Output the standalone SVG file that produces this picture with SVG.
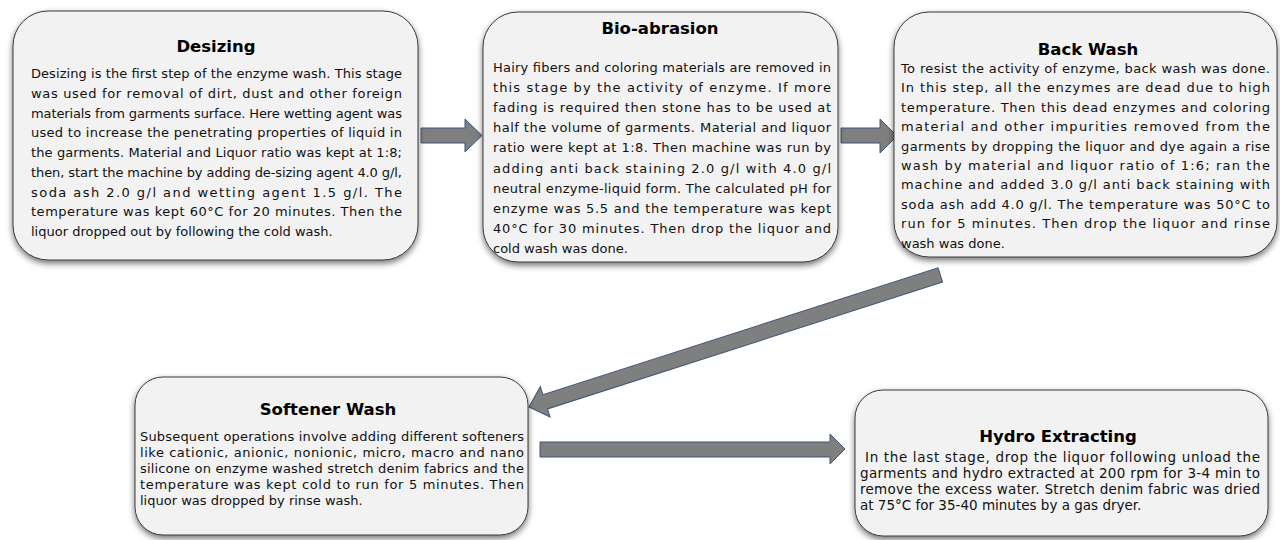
<svg xmlns="http://www.w3.org/2000/svg" width="1280" height="540" viewBox="0 0 1280 540">
<defs>
<filter id="sh" x="-10%" y="-10%" width="120%" height="130%">
<feDropShadow dx="0" dy="3" stdDeviation="3" flood-color="#000" flood-opacity="0.55"/>
</filter>
<style>
.box{fill:#f2f2f2;stroke:#3a3a3a;stroke-width:1;filter:url(#sh)}
.title{font-family:"DejaVu Sans",Verdana,sans-serif;font-weight:bold;font-size:16.5px;text-anchor:middle;fill:#000}
.body{font-family:"DejaVu Sans",Verdana,sans-serif;font-size:13px;fill:#111}
.low{font-size:13.5px}
.arrow{fill:#7f7f7f;stroke:#3e5678;stroke-width:1}
</style>
</defs>
<rect width="1280" height="540" fill="#fff"/>

<g id="connectors">
<polygon class="arrow" points="421,128 465,128 465,119 482,135.5 465,152 465,143 421,143"/>
<polygon class="arrow" points="841,128 880,128 880,119 897,136 880,153 880,143 841,143"/>
<polygon class="arrow" transform="translate(529,407) rotate(162.2)" points="-432,-7.5 -17,-7.5 -17,-16 0,0 -17,16 -17,7.5 -432,7.5"/>
<polygon class="arrow" points="540,442 830,442 830,434 845,449 830,464 830,457 540,457"/>
</g>

<g id="desizing">
<rect class="box" x="13" y="11" width="405" height="249" rx="35"/>
<text class="title" x="216" y="52">Desizing</text>
<text class="body" x="31" y="78" textLength="371" lengthAdjust="spacing">Desizing is the first step of the enzyme wash. This stage</text>
<text class="body" x="31" y="97.75" textLength="371" lengthAdjust="spacing">was used for removal of dirt, dust and other foreign</text>
<text class="body" x="31" y="117.5" textLength="371" lengthAdjust="spacing">materials from garments surface. Here wetting agent was</text>
<text class="body" x="31" y="137.25" textLength="371" lengthAdjust="spacing">used to increase the penetrating properties of liquid in</text>
<text class="body" x="31" y="157" textLength="371" lengthAdjust="spacing">the garments. Material and Liquor ratio was kept at 1:8;</text>
<text class="body" x="31" y="176.75" textLength="371" lengthAdjust="spacing">then, start the machine by adding de-sizing agent 4.0 g/l,</text>
<text class="body" x="31" y="196.5" textLength="371" lengthAdjust="spacing">soda ash 2.0 g/l and wetting agent 1.5 g/l. The</text>
<text class="body" x="31" y="216.25" textLength="371" lengthAdjust="spacing">temperature was kept 60°C for 20 minutes. Then the</text>
<text class="body" x="31" y="236">liquor dropped out by following the cold wash.</text>
</g>

<g id="bio-abrasion">
<rect class="box" x="483" y="12" width="355" height="250" rx="35"/>
<text class="title" x="660" y="34">Bio-abrasion</text>
<text class="body" x="493" y="72" textLength="338" lengthAdjust="spacing">Hairy fibers and coloring materials are removed in</text>
<text class="body" x="493" y="92.1" textLength="338" lengthAdjust="spacing">this stage by the activity of enzyme. If more</text>
<text class="body" x="493" y="112.2" textLength="338" lengthAdjust="spacing">fading is required then stone has to be used at</text>
<text class="body" x="493" y="132.3" textLength="338" lengthAdjust="spacing">half the volume of garments. Material and liquor</text>
<text class="body" x="493" y="152.4" textLength="338" lengthAdjust="spacing">ratio were kept at 1:8. Then machine was run by</text>
<text class="body" x="493" y="172.5" textLength="338" lengthAdjust="spacing">adding anti back staining 2.0 g/l with 4.0 g/l</text>
<text class="body" x="493" y="192.6" textLength="338" lengthAdjust="spacing">neutral enzyme-liquid form. The calculated pH for</text>
<text class="body" x="493" y="212.7" textLength="338" lengthAdjust="spacing">enzyme was 5.5 and the temperature was kept</text>
<text class="body" x="493" y="232.8" textLength="338" lengthAdjust="spacing">40°C for 30 minutes. Then drop the liquor and</text>
<text class="body" x="493" y="252.9">cold wash was done.</text>
</g>

<g id="back-wash">
<rect class="box" x="894" y="12" width="383" height="245" rx="35"/>
<text class="title" x="1088" y="55">Back Wash</text>
<text class="body" x="901" y="73" textLength="369" lengthAdjust="spacing">To resist the activity of enzyme, back wash was done.</text>
<text class="body" x="901" y="92.4" textLength="369" lengthAdjust="spacing">In this step, all the enzymes are dead due to high</text>
<text class="body" x="901" y="111.8" textLength="369" lengthAdjust="spacing">temperature. Then this dead enzymes and coloring</text>
<text class="body" x="901" y="131.2" textLength="369" lengthAdjust="spacing">material and other impurities removed from the</text>
<text class="body" x="901" y="150.6" textLength="369" lengthAdjust="spacing">garments by dropping the liquor and dye again a rise</text>
<text class="body" x="901" y="170" textLength="369" lengthAdjust="spacing">wash by material and liquor ratio of 1:6; ran the</text>
<text class="body" x="901" y="189.4" textLength="369" lengthAdjust="spacing">machine and added 3.0 g/l anti back staining with</text>
<text class="body" x="901" y="208.8" textLength="369" lengthAdjust="spacing">soda ash add 4.0 g/l. The temperature was 50°C to</text>
<text class="body" x="901" y="228.2" textLength="369" lengthAdjust="spacing">run for 5 minutes. Then drop the liquor and rinse</text>
<text class="body" x="901" y="247.6">wash was done.</text>
</g>

<g id="softener-wash">
<rect class="box" x="135" y="377" width="393" height="158" rx="28"/>
<text class="title" x="328" y="415">Softener Wash</text>
<text class="body" x="140" y="441" textLength="384" lengthAdjust="spacing">Subsequent operations involve adding different softeners</text>
<text class="body" x="140" y="457" textLength="384" lengthAdjust="spacing">like cationic, anionic, nonionic, micro, macro and nano</text>
<text class="body" x="140" y="473" textLength="384" lengthAdjust="spacing">silicone on enzyme washed stretch denim fabrics and the</text>
<text class="body" x="140" y="489" textLength="384" lengthAdjust="spacing">temperature was kept cold to run for 5 minutes. Then</text>
<text class="body" x="140" y="505">liquor was dropped by rinse wash.</text>
</g>

<g id="hydro-extracting">
<rect class="box" x="855" y="390" width="413" height="146" rx="28"/>
<text class="title" x="1058" y="442">Hydro Extracting</text>
<text class="body low" x="865" y="462" textLength="395" lengthAdjust="spacing">In the last stage, drop the liquor following unload the</text>
<text class="body low" x="860" y="478" textLength="400" lengthAdjust="spacing">garments and hydro extracted at 200 rpm for 3-4 min to</text>
<text class="body low" x="860" y="494" textLength="400" lengthAdjust="spacing">remove the excess water. Stretch denim fabric was dried</text>
<text class="body low" x="860" y="510">at 75°C for 35-40 minutes by a gas dryer.</text>
</g>
</svg>
